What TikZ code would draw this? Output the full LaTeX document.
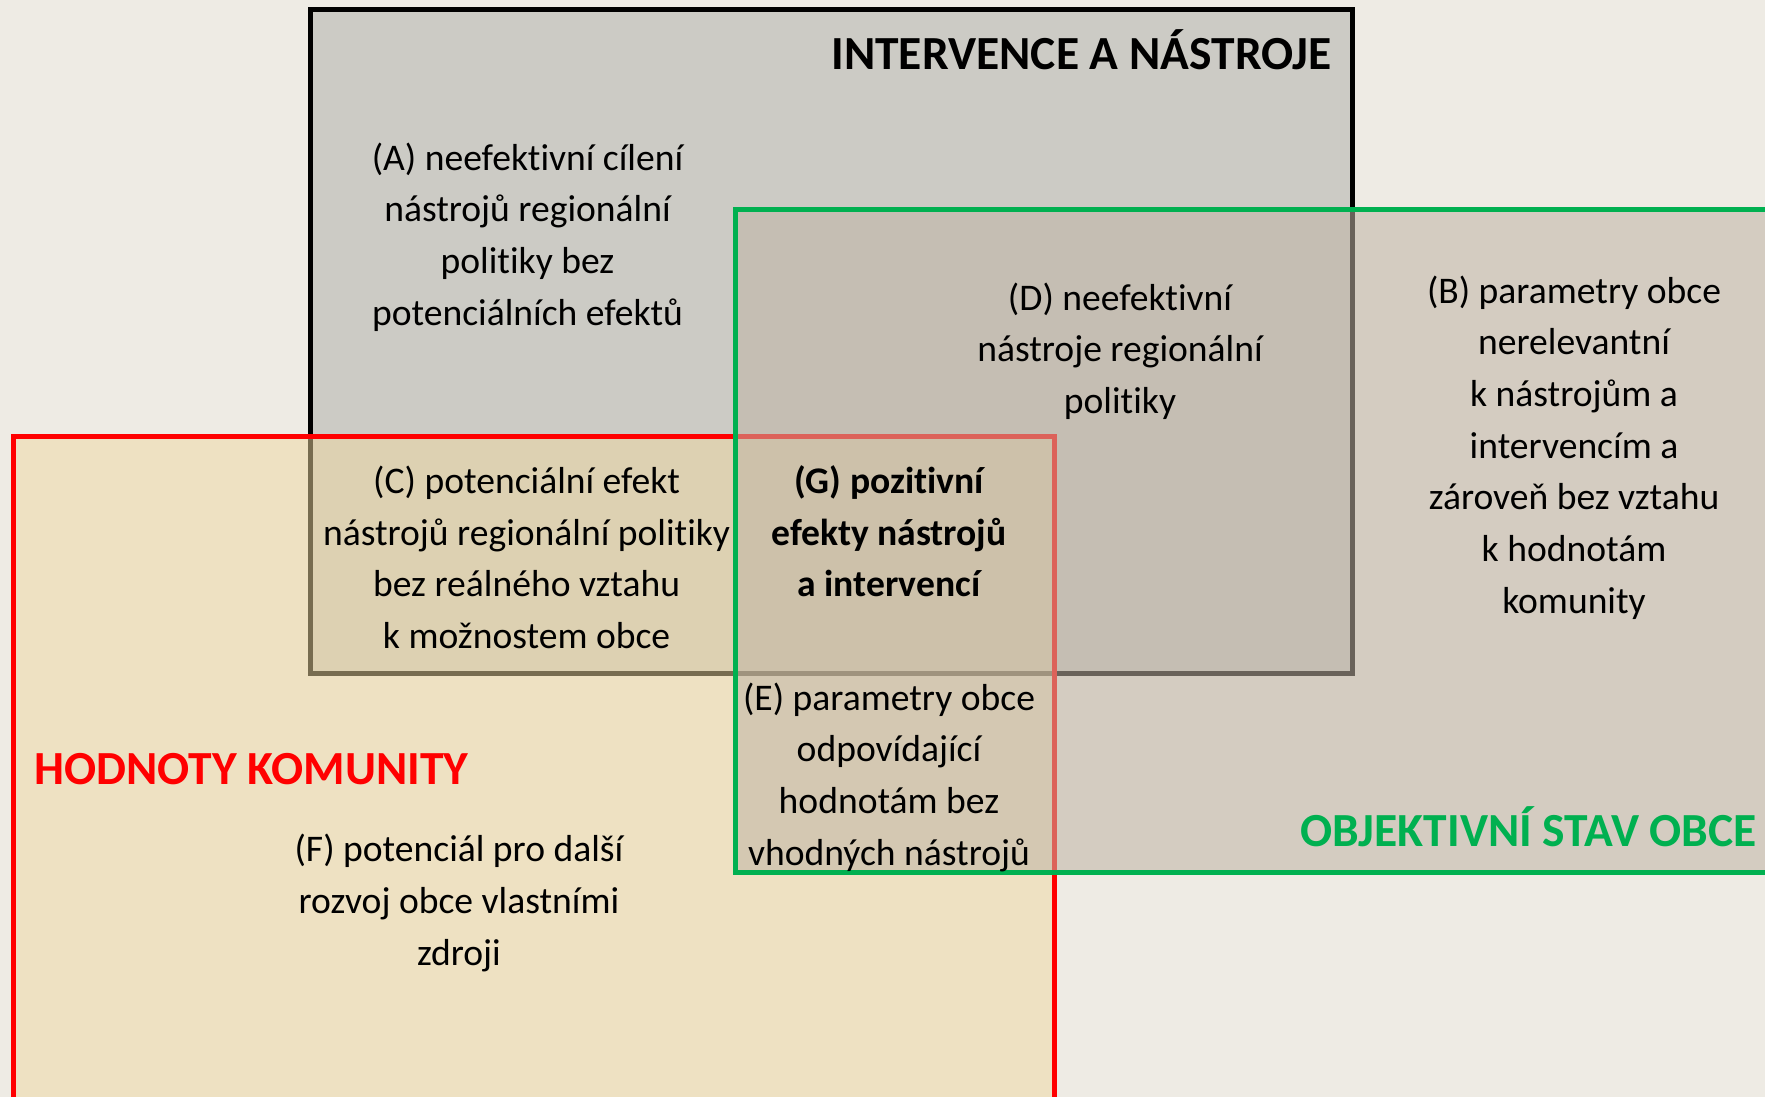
\documentclass[tikz,border=0pt]{standalone}
\usepackage{fontspec}
\setmainfont{Carlito}[Ligatures=NoCommon]
\definecolor{bgc}{HTML}{EEEBE4}
\definecolor{grayfill}{HTML}{CCCBC5}
\definecolor{redfill}{HTML}{EFD8A1}
\definecolor{greenfill}{RGB}{192,180,165}
\definecolor{offgreen}{HTML}{00B050}
\tikzset{
  body/.style={inner sep=0pt, align=center, anchor=base, text=black,
    font=\fontsize{37.6}{51.7}\selectfont},
  boldbody/.style={body, font=\fontsize{37.6}{51.7}\selectfont\bfseries},
  heading/.style={inner sep=0pt, anchor=base, font=\fontsize{47.5}{55}\selectfont\bfseries},
  frame/.style={line width=5pt},
}
\begin{document}
\begin{tikzpicture}[x=1pt,y=-1pt]
\useasboundingbox (0,0) rectangle (1765,1097);
\fill[bgc] (0,0) rectangle (1765,1097);
% INTERVENCE A NASTROJE
\draw[frame, draw=black, fill=grayfill] (310,9.5) rectangle (1352,673);
% HODNOTY KOMUNITY
\draw[frame, draw=red, fill=redfill, fill opacity=0.5] (13.5,436.5) rectangle (1054.5,1115);
% OBJEKTIVNI STAV OBCE
\draw[frame, draw=offgreen, fill=greenfill, fill opacity=0.55] (735.5,209.5) rectangle (1785,872.5);

\node[heading, anchor=base east] (hI) at (1332,69.3) {INTERVENCE A NÁSTROJE};
\node[heading, anchor=base west, text=red] (hH) at (34,784) {HODNOTY KOMUNITY};
\node[heading, anchor=base east, text=offgreen] (hO) at (1757,846.7) {OBJEKTIVNÍ STAV OBCE};

% anchor=base of a multi-line node is the baseline of its last line
\node[body] (A) at (527.5,325.1) {(A) neefektivní cílení\\nástrojů regionální\\politiky bez\\potenciálních efektů};
\node[body] (D) at (1120,413.4) {(D) neefektivní\\nástroje regionální\\politiky};
\node[body] (B) at (1574,613.2) {(B) parametry obce\\nerelevantní\\k nástrojům a\\intervencím a\\zároveň bez vztahu\\k hodnotám\\komunity};
\node[body] (C) at (526.6,648.4) {(C) potenciální efekt\\nástrojů regionální politiky\\bez reálného vztahu\\k možnostem obce};
\node[boldbody] (G) at (889,596.7) {(G) pozitivní\\efekty nástrojů\\a intervencí};
\node[body] (E) at (889,865.1) {(E) parametry obce\\odpovídající\\hodnotám bez\\vhodných nástrojů};
\node[body] (F) at (459,965.1) {(F) potenciál pro další\\rozvoj obce vlastními\\zdroji};
\end{tikzpicture}
\end{document}
